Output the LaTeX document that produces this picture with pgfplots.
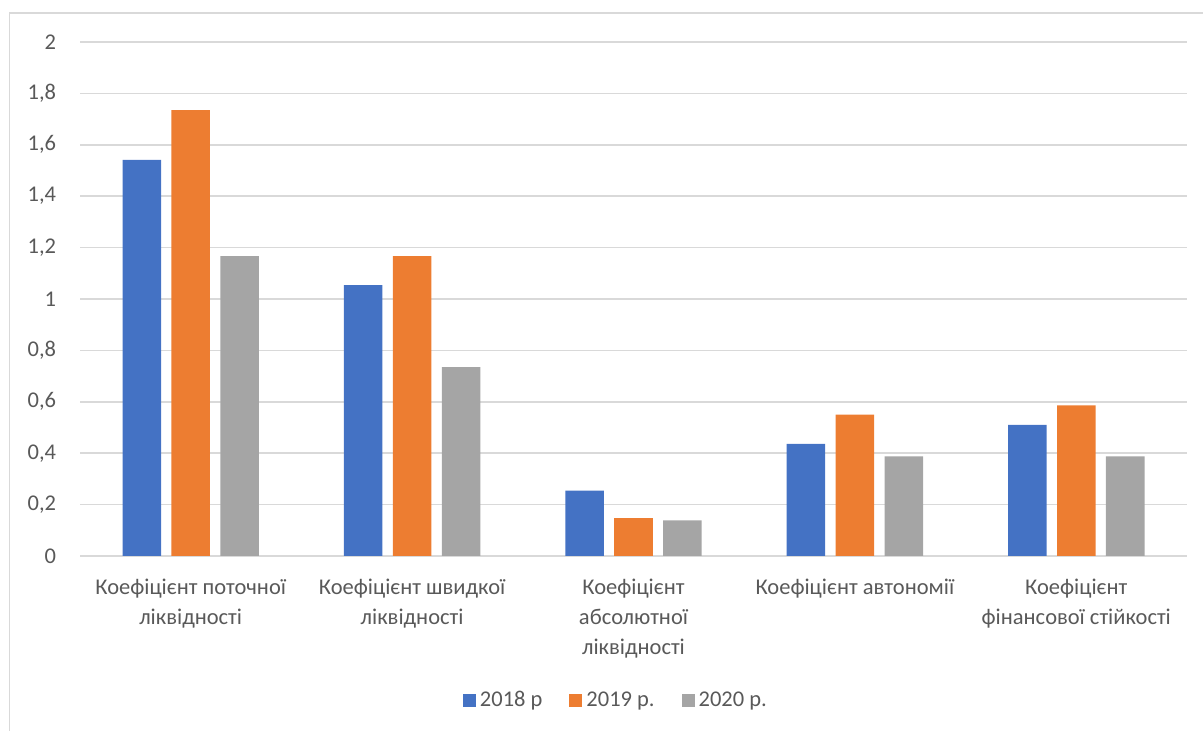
\documentclass[border=0pt]{standalone}
\usepackage{fontspec}
\setmainfont{Carlito}
\usepackage{pgfplots}
\pgfplotsset{compat=1.18}
\definecolor{cblue}{HTML}{4472C4}
\definecolor{corange}{HTML}{ED7D31}
\definecolor{cgray}{HTML}{A5A5A5}
\definecolor{ctext}{HTML}{595959}
\definecolor{cgrid}{HTML}{D9D9D9}
\begin{document}
\begin{tikzpicture}
\useasboundingbox (0,0) rectangle (601.5pt,365.5pt);
\draw[cgrid, line width=0.75pt] (4.75pt,0) -- (4.75pt,359pt) -- (601.5pt,359pt);
\begin{axis}[
  at={(40pt,87.5pt)}, anchor=south west,
  scale only axis, width=553.5pt, height=257pt,
  xmin=-0.5, xmax=4.5, ymin=0, ymax=2,
  ybar, bar width=0.174,
  axis line style={draw=none},
  axis x line*=bottom,
  x axis line style={draw=cgrid, line width=0.75pt},
  ytick={0,0.2,0.4,0.6,0.8,1,1.2,1.4,1.6,1.8,2},
  xtick={0,1,2,3,4},
  xticklabels={{Коефіцієнт поточної\\ліквідності},{Коефіцієнт швидкої\\ліквідності},{Коефіцієнт\\абсолютної\\ліквідності},{Коефіцієнт автономії},{Коефіцієнт\\фінансової стійкості}},
  major tick length=0pt,
  ymajorgrids, grid style={cgrid, line width=0.75pt},
  /pgf/number format/use comma,
  /pgf/number format/assume math mode=true,
  tick label style={font=\fontsize{11.25}{15}\selectfont, text=ctext},
  yticklabel style={inner sep=0pt, xshift=-11.75pt},
  xticklabel style={inner sep=0pt, yshift=-11.5pt, align=center},
  legend style={at={(0.485,-0.281)}, anchor=center, draw=none, fill=none,
    legend columns=-1, font=\fontsize{11.25}{15}\selectfont, text=ctext,
    /tikz/every even column/.append style={column sep=11.5pt}},
  legend cell align=left,
  legend image code/.code={\fill[#1] (0pt,-3.25pt) rectangle (6.5pt,3.25pt);},
  clip=false,
]
\addplot[fill=cblue, draw=none, bar shift=-0.221] coordinates {(0,1.541) (1,1.054) (2,0.254) (3,0.436) (4,0.510)};
\addplot[fill=corange, draw=none, bar shift=0] coordinates {(0,1.735) (1,1.167) (2,0.147) (3,0.550) (4,0.586)};
\addplot[fill=cgray, draw=none, bar shift=0.221] coordinates {(0,1.167) (1,0.735) (2,0.139) (3,0.388) (4,0.388)};
\legend{2018 р, 2019 р., 2020 р.}
\end{axis}
\end{tikzpicture}
\end{document}
